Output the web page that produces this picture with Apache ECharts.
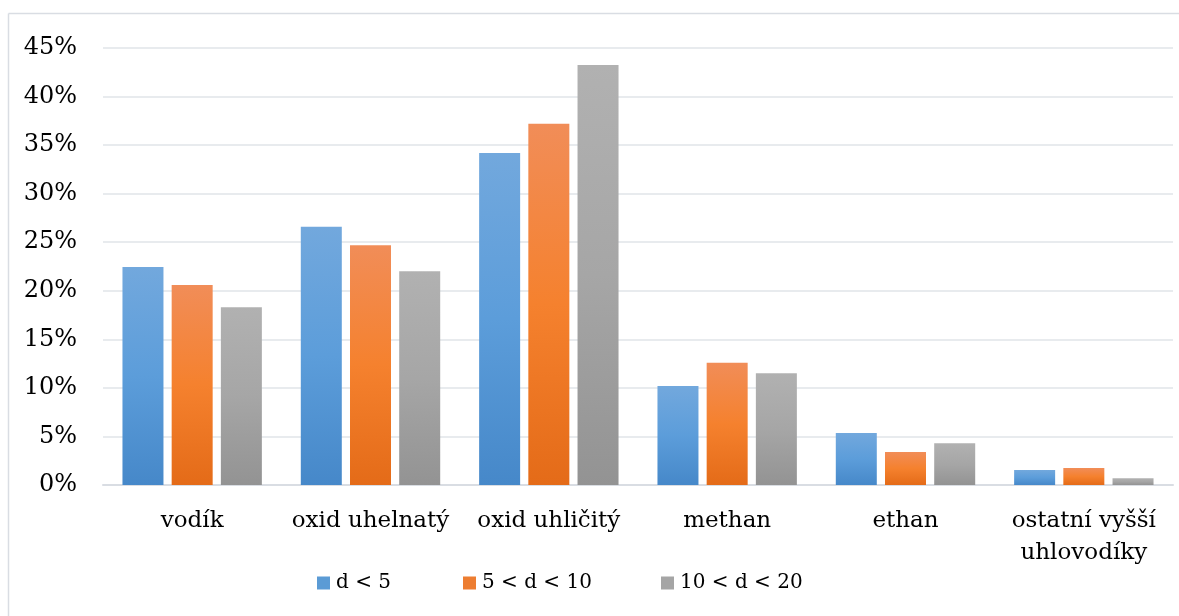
<!DOCTYPE html>
<html><head><meta charset="utf-8">
<script src="https://cdn.jsdelivr.net/npm/echarts@6/dist/echarts.min.js"></script>
<style>html,body{margin:0;padding:0;background:#fff}#c{width:1179px;height:616px}</style>
</head><body><div id="c"></div>
<script>
const categories = ['vodík', 'oxid uhelnatý', 'oxid uhličitý', 'methan', 'ethan', 'ostatní vyšší\nuhlovodíky'];
const seriesNames = ['d < 5', '5 < d < 10', '10 < d < 20'];
const valuesD5 = [22.45, 26.6, 34.2, 10.2, 5.35, 1.55];
const valuesD5to10 = [20.6, 24.7, 37.2, 12.6, 3.4, 1.75];
const valuesD10to20 = [18.3, 22.0, 43.25, 11.5, 4.3, 0.7];
const yTicks = [0, 5, 10, 15, 20, 25, 30, 35, 40, 45];

const FONT = 'DejaVu Serif';
function grad(a, b, c) {
  return new echarts.graphic.LinearGradient(0, 0, 0, 1, [
    {offset: 0, color: a}, {offset: 0.5, color: b}, {offset: 1, color: c}
  ]);
}
const fills = [
  grad('#72a8dd', '#5c9dda', '#4688c9'),
  grad('#f18d58', '#f5812e', '#e46b18'),
  grad('#b1b1b1', '#a6a6a6', '#939393')
];
const legendColors = ['#5b9bd5', '#ed7d31', '#a5a5a5'];
const legendLeft = [317, 463, 661];
const data = [valuesD5, valuesD5to10, valuesD10to20];

const chart = echarts.init(document.getElementById('c'), null, {renderer: 'canvas'});
chart.setOption({
  animation: false,
  graphic: [
    {type: 'line', shape: {x1: 8.5, y1: 13.5, x2: 1179, y2: 13.5}, style: {stroke: '#d9dde3', lineWidth: 1.5}, silent: true},
    {type: 'line', shape: {x1: 8.5, y1: 13.5, x2: 8.5, y2: 616}, style: {stroke: '#d9dde3', lineWidth: 1.5}, silent: true}
  ],
  grid: {left: 103, right: 6, top: 48, bottom: 131, containLabel: false},
  legend: seriesNames.map((n, i) => ({
    top: 570, left: legendLeft[i], itemWidth: 13, itemHeight: 13, padding: 0,
    icon: 'rect',
    textStyle: {fontFamily: FONT, fontSize: 20, lineHeight: 26, color: '#000', padding: [0, 0, 0, 1]},
    data: [{name: n, itemStyle: {color: legendColors[i]}}]
  })),
  xAxis: {
    type: 'category', data: categories,
    axisLine: {lineStyle: {color: '#d9dde3', width: 2}},
    axisTick: {show: false},
    axisLabel: {interval: 0, fontFamily: FONT, fontSize: 23, color: '#000', margin: 20, lineHeight: 32}
  },
  yAxis: {
    type: 'value', min: yTicks[0], max: yTicks[yTicks.length - 1], interval: 5,
    axisLine: {show: false}, axisTick: {show: false},
    splitLine: {lineStyle: {color: '#e1e4e8', width: 1.5}},
    axisLabel: {fontFamily: FONT, fontSize: 24, color: '#000', margin: 26, formatter: v => v + '%'}
  },
  series: data.map((d, i) => ({
    name: seriesNames[i], type: 'bar', data: d, barWidth: 41, barGap: '20%',
    itemStyle: {color: fills[i]}
  }))
});
</script></body></html>
